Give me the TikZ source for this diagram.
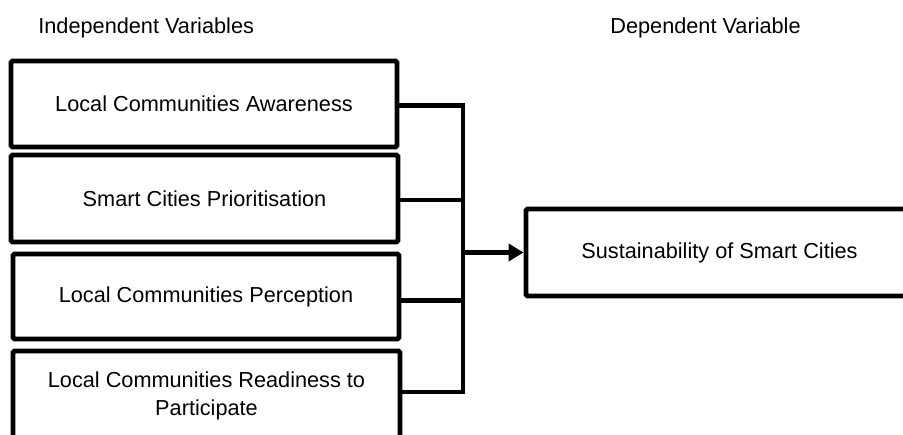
\documentclass[tikz,border=0pt]{standalone}
\usepackage{fontspec}
\setmainfont{Liberation Sans}
\usetikzlibrary{arrows.meta,calc}
\begin{document}
\begin{tikzpicture}[x=0.5pt,y=-0.5pt,
  txt/.style={font=\fontsize{10.85pt}{14pt}\selectfont},
  box/.style={txt, draw=black, line width=2.45pt, rounded corners=0.8pt, align=center, inner sep=0pt},
  link/.style={line width=2.45pt, line join=miter},
  hdr/.style={txt, anchor=base west, inner sep=0pt}]
\useasboundingbox (0,0) rectangle (903,434);
\clip (0,0) rectangle (903,434);
\node[hdr] (hi) at (38,33) {Independent Variables};
\node[hdr] (hd) at (610,33) {Dependent Variable};
\node[box, minimum width=193pt, minimum height=43pt] (b1) at (204,104) {Local Communities Awareness};
\node[box, minimum width=193.5pt, minimum height=43.5pt] (b2) at (204.5,198.5) {Smart Cities Prioritisation};
\node[box, minimum width=193pt, minimum height=42.5pt] (b3) at (206,296.5) {Local Communities Perception};
\node[box, minimum width=193.5pt, minimum height=44.5pt] (b4) at (206.5,395.5) {Local Communities Readiness to\\Participate};
\node[box, minimum width=193.5pt, minimum height=43.5pt] (rb) at (719.5,252.5) {Sustainability of Smart Cities};
\coordinate (bt) at (463,105.5);
\coordinate (bb) at (463,392);
\coordinate (c2) at (463,200);
\coordinate (c3) at (463,300.5);
\draw[link] (b1.east |- bt) -- (bt) -- (bb) -- (b4.east |- bb);
\draw[link] (b2.east |- c2) -- (c2);
\draw[link] (b3.east |- c3) -- (c3);
\draw[link, -{Triangle[length=7.5pt,width=8.5pt]}] (bt |- rb.west) -- (rb.west);
\end{tikzpicture}
\end{document}
